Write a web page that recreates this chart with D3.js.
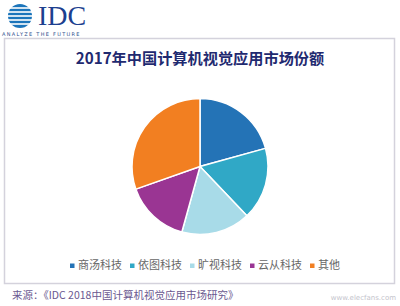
<!DOCTYPE html>
<html>
<head>
<meta charset="utf-8">
<script src="https://cdn.jsdelivr.net/npm/d3@7"></script>
<style>
  body { margin: 0; background: #fff; }
  svg { display: block; font-family: "Noto Sans CJK SC", "Noto Sans", sans-serif; }
</style>
</head>
<body>
<div id="chart"></div>
<script>
// data
var categories = ["商汤科技", "依图科技", "旷视科技", "云从科技", "其他"];
var shares = [20.7, 17.2, 16.4, 15.3, 30.4];
var colors = ["#2473b6", "#30a8c6", "#a8dbe8", "#9a3593", "#f27f21"];

var width = 400, height = 306;
var svg = d3.select("#chart").append("svg")
    .attr("width", width)
    .attr("height", height);

// frame
svg.append("rect")
    .attr("x", 4.5).attr("y", 38.5)
    .attr("width", 390).attr("height", 245)
    .attr("fill", "none")
    .attr("stroke", "#d4d2dc")
    .attr("stroke-width", 1.5);

// logo
var logo = svg.append("g");
var globe = logo.append("g").attr("transform", "translate(20,16)");
globe.append("circle").attr("r", 12).attr("fill", "#1b75bb");
[-8, -4, 0, 4, 8].forEach(function(dy) {
  globe.append("line")
      .attr("x1", -14).attr("x2", 14)
      .attr("y1", dy).attr("y2", dy)
      .attr("stroke", "#fff").attr("stroke-width", 1.6);
});
logo.append("text")
    .attr("x", 38).attr("y", 25)
    .attr("font-family", "Liberation Serif, serif")
    .attr("font-size", 28)
    .attr("fill", "#1d3f8f")
    .text("IDC");
logo.append("text")
    .attr("x", 2).attr("y", 36)
    .attr("font-family", "DejaVu Sans, sans-serif")
    .attr("font-size", 5)
    .attr("letter-spacing", 1.3)
    .attr("fill", "#2d4e8c")
    .text("ANALYZE THE FUTURE");

// title
svg.append("text")
    .attr("x", 200).attr("y", 64)
    .attr("text-anchor", "middle")
    .attr("font-size", 15.2)
    .attr("font-weight", "bold")
    .attr("fill", "#1f2a70")
    .text("2017年中国计算机视觉应用市场份额");

// pie
var cx = 200, cy = 166.5, radius = 68;
var pie = d3.pie().sort(null).value(function(d) { return d; });
var arc = d3.arc().innerRadius(0).outerRadius(radius);

svg.append("g")
    .attr("transform", "translate(" + cx + "," + cy + ")")
  .selectAll("path")
    .data(pie(shares))
  .enter().append("path")
    .attr("d", arc)
    .attr("fill", function(d, i) { return colors[i]; })
    .attr("stroke", "#fff")
    .attr("stroke-width", 1.5);

// legend
var legendX = d3.scalePoint().domain(categories).range([70, 310]);
var legend = svg.append("g").selectAll("g")
    .data(categories)
  .enter().append("g")
    .attr("transform", function(d) { return "translate(" + legendX(d) + ",268)"; });
legend.append("rect")
    .attr("x", 0).attr("y", -4.5)
    .attr("width", 4.5).attr("height", 4.5)
    .attr("fill", function(d, i) { return colors[i]; });
legend.append("text")
    .attr("x", 8).attr("y", 0)
    .attr("dy", "0.1em")
    .attr("font-size", 11)
    .attr("fill", "#666")
    .text(function(d) { return d; });

// source
svg.append("text")
    .attr("x", 12).attr("y", 299)
    .attr("font-size", 10.5)
    .attr("fill", "#6a5890")
    .text("来源：《IDC 2018中国计算机视觉应用市场研究》");

// watermark
svg.append("text")
    .attr("x", 396).attr("y", 300)
    .attr("text-anchor", "end")
    .attr("font-family", "DejaVu Sans, sans-serif")
    .attr("font-size", 7)
    .attr("fill", "#c4c4cc")
    .text("www.elecfans.com");
</script>
</body>
</html>
